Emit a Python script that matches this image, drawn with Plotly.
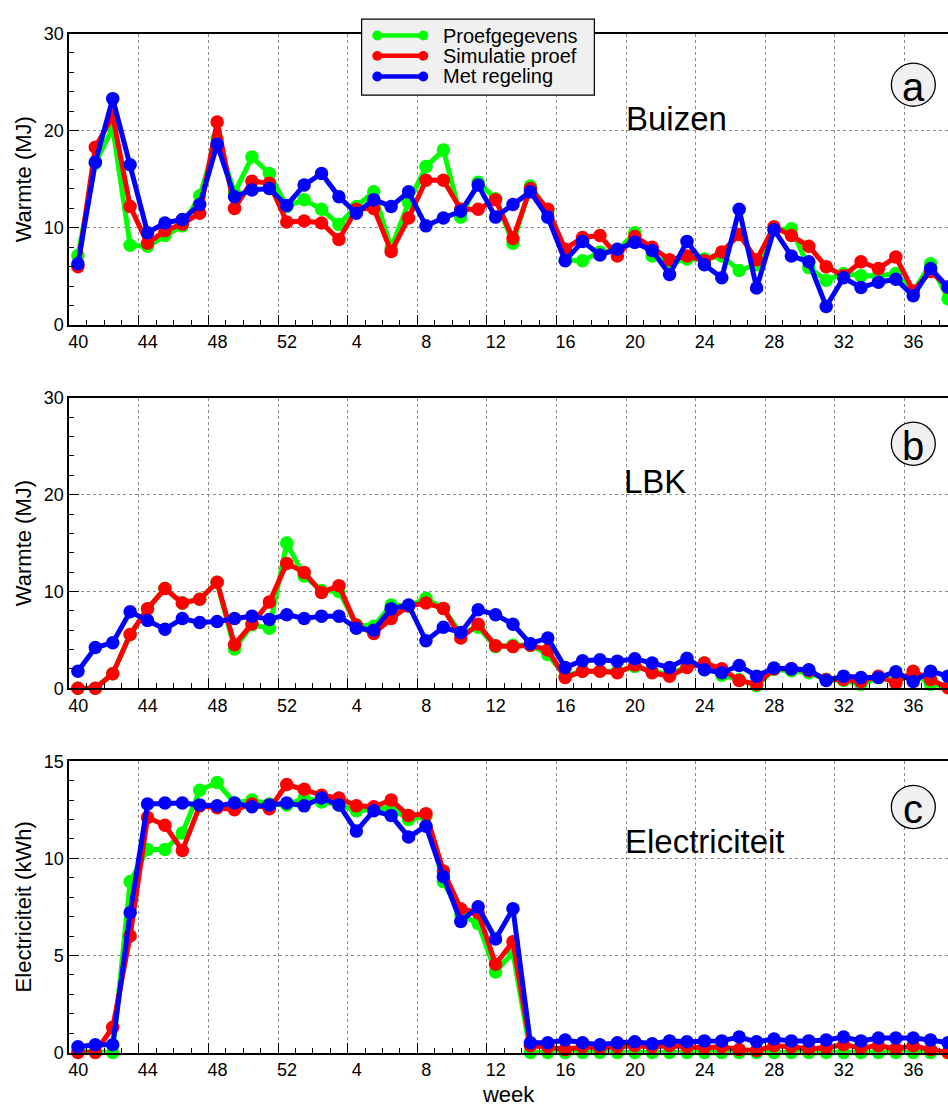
import numpy as np
import plotly.graph_objects as go

# ---------------- data ----------------
weeks = list(range(40, 53)) + list(range(1, 39))
series_names = ["Proefgegevens", "Simulatie proef", "Met regeling"]
series_colors = ["#00ff00", "#ff0000", "#0000ff"]

buizen_proef = [7.15, 16.65, 20.3, 8.2, 8.1, 9.2, 10.2, 13.3, 19.2, 13.6, 17.3, 15.6, 12.2, 12.9, 11.9, 10.35,
                12.2, 13.7, 7.9, 12.6, 16.3, 18.0, 11.1, 14.7, 13.0, 8.4, 14.3, 11.7, 6.7, 6.6, 7.5, 7.65, 9.5,
                7.1, 6.3, 6.8, 6.8, 7.1, 5.6, 6.2, 9.8, 9.9, 5.9, 4.6, 5.3, 5.05, 5.05, 5.3, 3.4, 6.3, 2.7]
buizen_sim = [6.0, 18.3, 21.5, 12.2, 8.4, 9.7, 10.4, 11.5, 20.9, 12.0, 14.8, 14.6, 10.6, 10.7, 10.5, 8.8,
              11.9, 12.0, 7.55, 11.0, 14.9, 14.9, 11.9, 11.9, 12.9, 8.9, 14.05, 11.9, 7.8, 9.0, 9.2, 7.1, 9.1,
              8.0, 6.7, 7.1, 6.6, 7.5, 9.3, 6.7, 10.1, 9.2, 8.1, 6.0, 5.05, 6.5, 5.8, 7.0, 3.5, 5.5, 3.9]
buizen_reg = [6.3, 16.75, 23.3, 16.5, 9.5, 10.5, 10.85, 12.4, 18.6, 13.2, 13.9, 14.05, 12.3, 14.4, 15.6, 13.2,
              11.5, 12.9, 12.2, 13.7, 10.2, 11.0, 11.7, 14.4, 11.1, 12.4, 13.7, 11.1, 6.6, 8.6, 7.2, 7.8, 8.5,
              7.65, 5.2, 8.6, 6.2, 4.85, 11.9, 3.8, 9.8, 7.1, 6.5, 1.9, 4.85, 3.85, 4.4, 4.7, 3.0, 5.8, 3.9]

lbk_proef = [0, 0, 1.5, 5.55, 8.2, 10.3, 8.8, 9.2, 10.95, 4.05, 6.55, 6.2, 15.0, 11.6, 10.1, 10.0, 6.55,
             6.4, 8.6, 8.5, 9.3, 8.25, 5.65, 6.3, 4.3, 4.45, 4.45, 3.5, 1.25, 1.75, 1.75, 1.75, 2.25, 1.75,
             1.4, 2.25, 2.6, 1.35, 0.9, 0.25, 1.95, 1.8, 1.6, 0.9, 0.8, 0.4, 1.1, 0.75, 1.5, 0.4, 0.2]
lbk_sim = [0, 0, 1.5, 5.55, 8.2, 10.3, 8.8, 9.2, 10.95, 4.5, 6.65, 8.9, 12.9, 11.97, 9.9, 10.6, 6.5, 5.65,
           7.2, 8.5, 8.8, 8.25, 5.2, 6.6, 4.4, 4.3, 4.45, 3.95, 1.1, 1.75, 1.75, 1.6, 2.4, 1.6, 1.25, 2.15,
           2.6, 2.0, 0.8, 0.4, 2.0, 2.0, 1.8, 0.9, 0.9, 0.7, 1.25, 0.55, 1.75, 0.9, 0.05]
lbk_reg = [1.75, 4.2, 4.7, 7.9, 7.0, 6.1, 7.2, 6.8, 6.9, 7.2, 7.45, 7.1, 7.6, 7.2, 7.45, 7.45, 6.2, 6.0,
           8.2, 8.6, 4.9, 6.3, 5.75, 8.1, 7.6, 6.6, 4.6, 5.2, 2.15, 2.85, 2.95, 2.8, 3.05, 2.6, 2.15, 3.1,
           1.9, 1.6, 2.35, 1.25, 2.1, 2.0, 1.9, 0.8, 1.25, 1.1, 1.1, 1.7, 0.7, 1.75, 1.25]

elec_proef = [0.05, 0.05, 0.0, 8.8, 10.45, 10.45, 11.3, 13.5, 13.9, 12.85, 13.0, 12.8, 12.75, 13.1, 12.9,
              12.75, 12.45, 12.5, 12.6, 12.0, 12.15, 8.8, 7.1, 6.65, 4.15, 5.15, 0.0, 0.0, 0.0, 0.0, 0.0,
              0.0, 0.0, 0.0, 0.0, 0.0, 0.0, 0.0, 0.0, 0.0, 0.0, 0.0, 0.0, 0.0, 0.0, 0.0, 0.0, 0.0, 0.0,
              0.0, 0.0]
elec_sim = [0, 0, 1.3, 6.0, 12.1, 11.7, 10.4, 12.7, 12.6, 12.5, 12.8, 12.55, 13.8, 13.55, 13.25, 13.1,
            12.7, 12.65, 13.0, 12.2, 12.3, 9.35, 7.4, 7.2, 4.55, 5.7, 0.35, 0.3, 0.15, 0.3, 0.25, 0.3, 0.35,
            0.3, 0.35, 0.3, 0.25, 0.3, 0.15, 0.1, 0.35, 0.3, 0.2, 0.25, 0.4, 0.25, 0.35, 0.2, 0.35, 0.15, 0.0]
elec_reg = [0.3, 0.4, 0.4, 7.2, 12.8, 12.85, 12.85, 12.75, 12.7, 12.85, 12.65, 12.75, 12.85, 12.7, 13.1,
            12.75, 11.4, 12.45, 12.2, 11.1, 11.65, 9.05, 6.75, 7.5, 5.85, 7.4, 0.5, 0.5, 0.65, 0.5, 0.4,
            0.5, 0.55, 0.45, 0.6, 0.55, 0.6, 0.6, 0.8, 0.55, 0.7, 0.6, 0.6, 0.65, 0.8, 0.6, 0.75, 0.75,
            0.75, 0.65, 0.5]

panel_titles = ["Buizen", "LBK", "Electriciteit"]
panel_letters = ["a", "b", "c"]
y_titles = ["Warmte (MJ)", "Warmte (MJ)", "Electriciteit (kWh)"]
x_title = "week"

# ---------------- layout helpers ----------------
W, H = 948, 1108
FONT = "Liberation Sans, Arial, Helvetica, sans-serif"


def fx(p):
    return p / W


def fy(p):
    return 1 - p / H


x = np.arange(len(weeks))
tick_idx = x[::4]
tick_vals = [float(i) - 0.5 for i in tick_idx]
tick_text = [str(weeks[i]) for i in tick_idx]
px_per_week = (W - 68.3) / 50.5
label_shift = int(round(px_per_week * 0.5))

panels = [
    dict(data=[buizen_proef, buizen_sim, buizen_reg], top=24, bot=320.7, yr=[0, 30], ydt=10, ymin=2,
         title_y=110, circ_y=76),
    dict(data=[lbk_proef, lbk_sim, lbk_reg], top=395, bot=690.7, yr=[0, 30], ydt=10, ymin=2,
         title_y=480, circ_y=441.7),
    dict(data=[elec_proef, elec_sim, elec_reg], top=765, bot=1061.7, yr=[0, 15], ydt=5, ymin=1,
         title_y=847, circ_y=811.7),
]
title_x = [676.7, 655, 704.3]

fig = go.Figure()
shapes = []
annotations = []

for p, pan in enumerate(panels):
    xa = "x" if p == 0 else f"x{p + 1}"
    ya = "y" if p == 0 else f"y{p + 1}"
    for s in range(3):
        fig.add_trace(go.Scatter(
            x=x, y=pan["data"][s], xaxis=xa, yaxis=ya, mode="lines+markers",
            name=series_names[s], showlegend=False, cliponaxis=False,
            line=dict(color=series_colors[s], width=5),
            marker=dict(color=series_colors[s], size=13.5, line=dict(width=0)),
        ))
    xkey = "xaxis" if p == 0 else f"xaxis{p + 1}"
    ykey = "yaxis" if p == 0 else f"yaxis{p + 1}"
    fig.layout[xkey] = dict(
        domain=[fx(68.3), 1.0], anchor=ya, range=[-0.5, 50.0],
        tickmode="array", tickvals=tick_vals, ticktext=tick_text, ticklabelshift=label_shift,
        ticks="inside", ticklen=10, tickwidth=1.2, tickcolor="black",
        minor=dict(tickmode="linear", tick0=-0.5, dtick=1, ticks="inside", ticklen=5, tickwidth=1,
                   tickcolor="black", showgrid=False),
        showgrid=True, gridcolor="#8c8c8c", griddash="dot", gridwidth=1,
        showline=True, linecolor="black", linewidth=1.5, mirror=True, zeroline=False,
        tickfont=dict(family=FONT, size=18, color="black"),
        title=dict(text=x_title if p == 2 else "", font=dict(family=FONT, size=22, color="black"),
                   standoff=8),
    )
    yvals = list(range(pan["yr"][0], pan["yr"][1] + 1, pan["ydt"]))
    fig.layout[ykey] = dict(
        domain=[fy(pan["bot"]), fy(pan["top"])], anchor=xa, range=pan["yr"],
        tickmode="array", tickvals=yvals, ticks="inside", ticklen=10, tickwidth=1.2, tickcolor="black",
        minor=dict(tickmode="linear", tick0=0, dtick=pan["ymin"], ticks="inside", ticklen=5, tickwidth=1,
                   tickcolor="black", showgrid=False),
        showgrid=True, gridcolor="#8c8c8c", griddash="dot", gridwidth=1,
        showline=True, linecolor="black", linewidth=1.5, zeroline=False,
        tickfont=dict(family=FONT, size=18, color="black"),
        title=dict(text=y_titles[p], font=dict(family=FONT, size=22, color="black"), standoff=6),
    )
    # panel title
    annotations.append(dict(text=panel_titles[p], x=fx(title_x[p]), y=fy(pan["title_y"]), xref="paper",
                            yref="paper", xanchor="center", yanchor="middle", showarrow=False,
                            font=dict(family=FONT, size=33, color="black")))
    # circled letter
    r = 22
    cx, cy = 913.3, pan["circ_y"]
    shapes.append(dict(type="circle", xref="paper", yref="paper", x0=fx(cx - r), x1=fx(cx + r),
                       y0=fy(cy + r), y1=fy(cy - r), fillcolor="#f0f0f0",
                       line=dict(color="black", width=1.3), layer="above"))
    annotations.append(dict(text=panel_letters[p], x=fx(cx), y=fy(cy + 2), xref="paper", yref="paper",
                            xanchor="center", yanchor="middle", showarrow=False,
                            font=dict(family=FONT, size=40, color="black")))

# ---------------- manual legend (MATLAB style) ----------------
shapes.append(dict(type="rect", xref="paper", yref="paper", x0=fx(361), x1=fx(594), y0=fy(86.7),
                   y1=fy(9.3), fillcolor="#f0f0f0", line=dict(color="black", width=1.2), layer="above"))
rows = [26, 46.7, 67.7]
for s in range(3):
    yy = rows[s]
    shapes.append(dict(type="line", xref="paper", yref="paper", x0=fx(376.7), x1=fx(422.7), y0=fy(yy),
                       y1=fy(yy), line=dict(color=series_colors[s], width=4.5), layer="above"))
    for cxx in (376.7, 422.7):
        rr = 5
        shapes.append(dict(type="circle", xref="paper", yref="paper", x0=fx(cxx - rr), x1=fx(cxx + rr),
                           y0=fy(yy + rr), y1=fy(yy - rr), fillcolor=series_colors[s],
                           line=dict(width=0), layer="above"))
    annotations.append(dict(text=series_names[s], x=fx(440), y=fy(yy), xref="paper", yref="paper",
                            xanchor="left", yanchor="middle", showarrow=False,
                            font=dict(family=FONT, size=20, color="black")))

fig.update_layout(
    width=W, height=H, margin=dict(l=0, r=0, t=0, b=0), autosize=False,
    paper_bgcolor="white", plot_bgcolor="white", showlegend=False,
    shapes=shapes, annotations=annotations,
    font=dict(family=FONT, color="black"),
)

fig.write_html("out.html")
